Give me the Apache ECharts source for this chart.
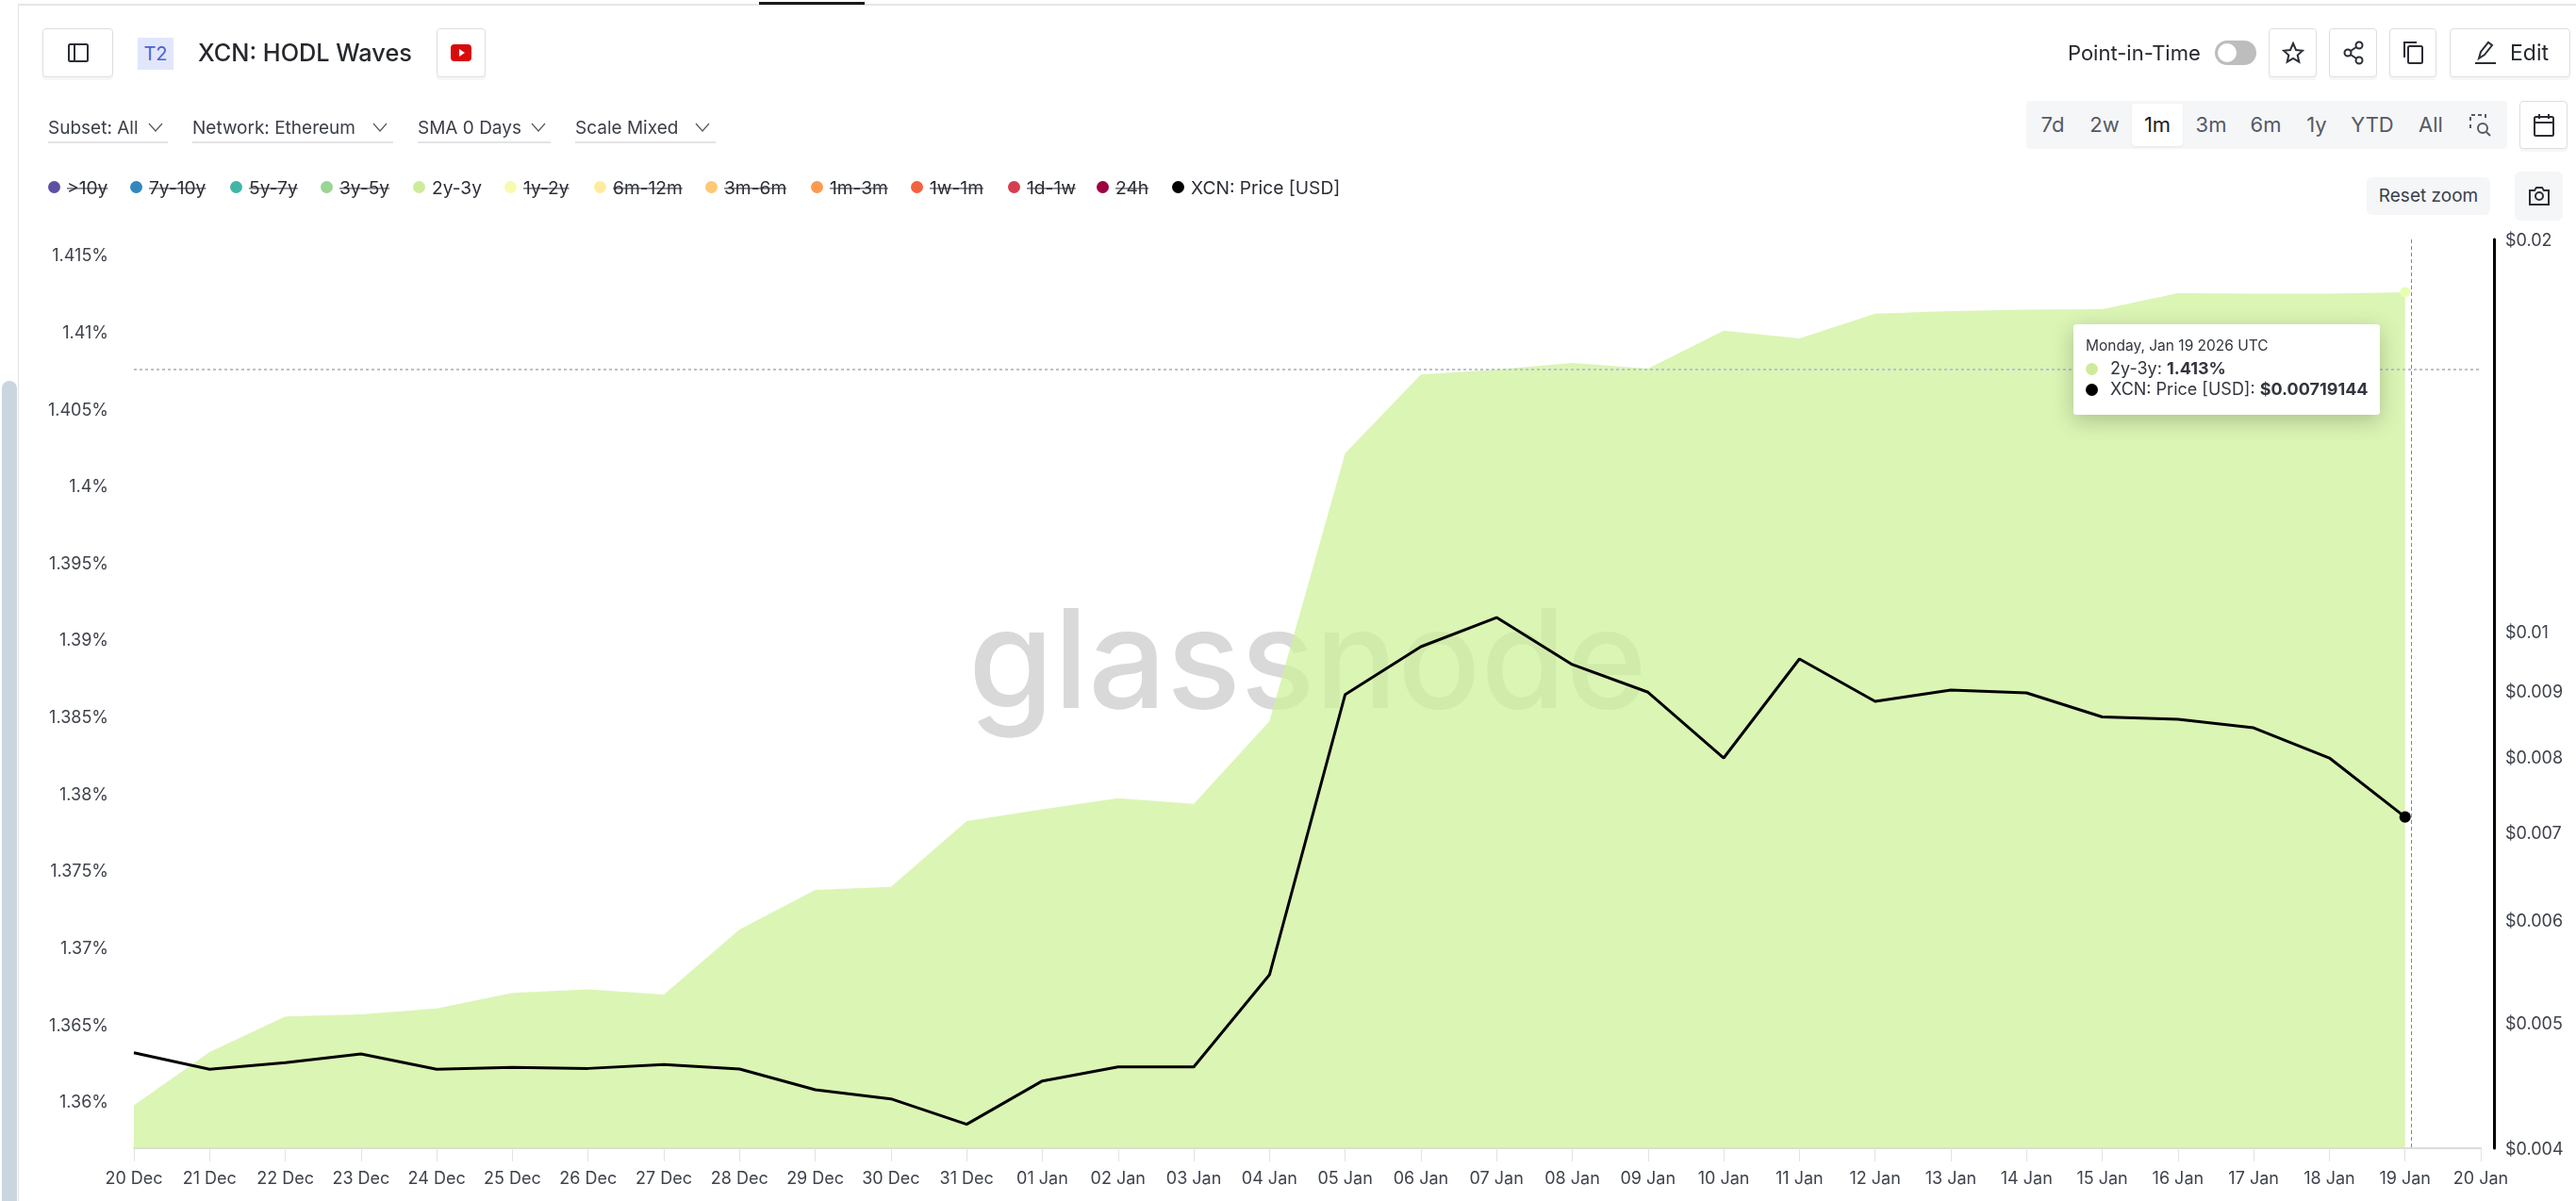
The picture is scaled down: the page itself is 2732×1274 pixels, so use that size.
<!DOCTYPE html>
<html>
<head>
<meta charset="utf-8">
<title>XCN: HODL Waves</title>
<script src="https://cdn.jsdelivr.net/npm/echarts@6/dist/echarts.min.js"></script>
<style>
html, body { margin: 0; padding: 0; background: #fff; overflow: hidden; }
body { width: 2732px; height: 1274px; position: relative; font-family: Inter, sans-serif; color: #2b2e36; }
#chart { position: absolute; left: 0; top: 0; width: 2732px; height: 1274px; }
.abs { position: absolute; }
.btn { position: absolute; box-sizing: border-box; background: #fff; border: 1px solid #dcdee2; border-radius: 4px; box-shadow: 0 3px 0 #f6f6f6; display: flex; align-items: center; justify-content: center; }
.txt { position: absolute; white-space: nowrap; line-height: 1; transform: translateY(-50%); }
.filter { font-size: 19px; color: #3b3f48; }
.under { position: absolute; top: 150px; height: 2px; background: #e3e3e6; }
.rng { font-size: 22px; color: #555a64; transform: translate(-50%, -50%); }
.dot { position: absolute; width: 13px; height: 13px; border-radius: 50%; top: 192px; }
.leg { font-size: 19.2px; color: #2b2e36; top: 200px; }
.off { text-decoration: line-through; }
svg { display: block; fill: none; stroke: #2b2e36; stroke-width: 2; }
.chev { stroke: #555a64; stroke-width: 1.2; }
.tipdot { display: inline-block; width: 13px; height: 13px; border-radius: 50%; margin-right: 13px; vertical-align: -1px; }
</style>
</head>
<body>
<div id="chart"></div>

<!-- page chrome -->
<div class="abs" style="left:19px;top:4px;right:0;height:2px;background:#e6e6e6"></div>
<div class="abs" style="left:805px;top:2px;width:112px;height:3px;background:#1a1a1a"></div>
<div class="abs" style="left:19px;top:5px;width:1px;height:1269px;background:#e4e4e4"></div>
<div class="abs" style="left:2px;top:404px;width:16px;height:870px;background:#c9d6e0;border-radius:8px 8px 0 0"></div>

<div class="btn" style="left:45px;top:30px;width:75px;height:52px"><svg width="24" height="22"><rect x="2" y="2" width="20" height="18" rx="1.5"/><path d="M8 2v18"/></svg></div>
<div class="abs" style="left:146px;top:40px;width:38px;height:34px;background:#e2e6fb;color:#4a64d8;font-size:20px;line-height:34px;text-align:center">T2</div>
<div class="txt" style="left:210px;top:56px;font-size:25.3px;font-weight:500;color:#26282e">XCN: HODL Waves</div>
<div class="btn" style="left:463px;top:30px;width:52px;height:52px"><svg width="24" height="18" style="stroke:none"><rect x="1" y="0" width="22" height="18" rx="4" fill="#d90a0a"/><path d="M10 5l6 4-6 4z" fill="#fff"/></svg></div>

<div class="txt filter" style="left:51px;top:135px">Subset: All</div>
<svg class="abs chev" style="left:157px;top:129px" width="16" height="12"><path d="M1 2l7 8 7-8"/></svg>
<div class="under" style="left:51px;width:127px"></div>
<div class="txt filter" style="left:204px;top:135px">Network: Ethereum</div>
<svg class="abs chev" style="left:395px;top:129px" width="16" height="12"><path d="M1 2l7 8 7-8"/></svg>
<div class="under" style="left:204px;width:213px"></div>
<div class="txt filter" style="left:443px;top:135px">SMA 0 Days</div>
<svg class="abs chev" style="left:563px;top:129px" width="16" height="12"><path d="M1 2l7 8 7-8"/></svg>
<div class="under" style="left:443px;width:141px"></div>
<div class="txt filter" style="left:610px;top:135px">Scale Mixed</div>
<svg class="abs chev" style="left:737px;top:129px" width="16" height="12"><path d="M1 2l7 8 7-8"/></svg>
<div class="under" style="left:610px;width:149px"></div>

<div id="legend"></div>

<div class="txt" style="left:2193px;top:56px;font-size:22px;color:#26282e">Point-in-Time</div>
<div class="abs" style="left:2349px;top:43px;width:44px;height:26px;border-radius:13px;background:#bdbdbd"></div>
<div class="abs" style="left:2352px;top:46px;width:20px;height:20px;border-radius:50%;background:#fff"></div>
<div class="btn" style="left:2406px;top:30px;width:51px;height:52px"><svg width="24" height="24" stroke-width="1.6"><path d="M12 2l3 7 7 .7-5.300 4.800 1.600 7.200L12 18l-6.300 3.700 1.600-7.200L2 9.700 9 9z"/></svg></div>
<div class="btn" style="left:2470px;top:30px;width:51px;height:52px"><svg width="24" height="26"><circle cx="18" cy="5" r="3.500"/><circle cx="6" cy="13" r="3.500"/><circle cx="18" cy="21" r="3.500"/><path d="M9 11l6-4M9 15l6 4"/></svg></div>
<div class="btn" style="left:2534px;top:30px;width:50px;height:52px"><svg width="24" height="26"><rect x="7" y="6" width="15" height="18" rx="1.500"/><path d="M3 18V2h13"/></svg></div>
<div class="btn" style="left:2598px;top:30px;width:128px;height:52px;justify-content:flex-start"><svg style="margin-left:25px" width="24" height="26"><path d="M5 19l2-7 8-10 4 3-8 10zM1 24h22"/></svg><span style="margin-left:14px;font-size:23px;color:#26282e">Edit</span></div>

<div class="abs" style="left:2149px;top:107px;width:510px;height:51px;background:#f5f6f8;border-radius:4px"></div>
<div class="abs" style="left:2261px;top:110px;width:54px;height:45px;background:#fff;border-radius:4px;box-shadow:0 1px 2px #e6e6e6"></div>
<div class="txt rng" style="left:2177px;top:132px">7d</div>
<div class="txt rng" style="left:2232px;top:132px">2w</div>
<div class="txt rng" style="left:2288px;top:132px;color:#1b1d22">1m</div>
<div class="txt rng" style="left:2345px;top:132px">3m</div>
<div class="txt rng" style="left:2403px;top:132px">6m</div>
<div class="txt rng" style="left:2457px;top:132px">1y</div>
<div class="txt rng" style="left:2516px;top:132px">YTD</div>
<div class="txt rng" style="left:2578px;top:132px">All</div>
<svg class="abs" style="left:2618px;top:120px;stroke:#555a64" width="26" height="26" stroke-width="1.600"><path d="M2 8V2h16v6M2 12v6" stroke-dasharray="4 3"/><circle cx="15" cy="16" r="5"/><path d="M19 20l4 4"/></svg>
<div class="btn" style="left:2672px;top:107px;width:51px;height:51px"><svg width="24" height="26"><rect x="2" y="4" width="20" height="20" rx="1.500"/><path d="M2 10h20M7 1v5M17 1v5"/></svg></div>
<div class="abs" style="left:2510px;top:188px;width:131px;height:40px;background:#f5f6f8;border-radius:6px;font-size:19px;line-height:40px;text-align:center;color:#3b3f48">Reset zoom</div>
<div class="abs" style="left:2667px;top:182px;width:51px;height:52px;background:#f5f6f8;border-radius:6px;display:flex;align-items:center;justify-content:center"><svg width="24" height="22"><path d="M2 5h5l2-3h6l2 3h5v15H2z"/><circle cx="12" cy="11" r="4"/></svg></div>

<script>
var days = ['20 Dec','21 Dec','22 Dec','23 Dec','24 Dec','25 Dec','26 Dec','27 Dec','28 Dec','29 Dec','30 Dec','31 Dec',
    '01 Jan','02 Jan','03 Jan','04 Jan','05 Jan','06 Jan','07 Jan','08 Jan','09 Jan','10 Jan','11 Jan','12 Jan','13 Jan',
    '14 Jan','15 Jan','16 Jan','17 Jan','18 Jan','19 Jan','20 Jan'];
// 2y-3y supply share, percent
var wave2y3y = [1.3597,1.36317,1.36548,1.36562,1.366,1.36701,1.36725,1.3669,1.37113,1.37371,1.37391,1.37818,
    1.37895,1.37967,1.3793,1.38467,1.40209,1.4072,1.40753,1.40796,1.40759,1.41006,1.40955,1.41115,1.41133,
    1.41142,1.41145,1.41249,1.41246,1.41246,1.41255,null];
// XCN price, USD
var priceUsd = [0.004737,0.0046,0.004654,0.004727,0.0046,0.004615,0.004607,0.004638,0.004602,0.004436,0.004365,0.004173,
    0.004506,0.00462,0.00462,0.005438,0.008934,0.009723,0.010239,0.00942,0.00897,0.007984,0.009514,0.008825,0.009004,
    0.008959,0.008586,0.00855,0.008422,0.007984,0.00719144,null];
var leftTicks = [1.36,1.365,1.37,1.375,1.38,1.385,1.39,1.395,1.4,1.405,1.41,1.415];
var rightTicks = [0.004,0.005,0.006,0.007,0.008,0.009,0.01,0.02];
var legendNames = ['>10y','7y-10y','5y-7y','3y-5y','2y-3y','1y-2y','6m-12m','3m-6m','1m-3m','1w-1m','1d-1w','24h','XCN: Price [USD]'];
var legendColors = ['#5e4fa2','#3288bd','#41b6a6','#99d594','#cdec9a','#f6fbb0','#feeb9d','#fdc974','#fd9a50','#f4623f','#d53e4f','#9e0142','#000000'];
var legendDotX = [51,138,244,340,438,535,630,748,860,966,1069,1163,1243];
var legendOn = ['2y-3y','XCN: Price [USD]'];
var tipTitle = 'Monday, Jan 19 2026 UTC';
var hoverIndex = 30;

// 图例是带删除线的，所以用 html
var legendHtml = '';
legendNames.forEach(function (name, i) {
    var cls = legendOn.indexOf(name) < 0 ? ' off' : '';
    legendHtml += '<div class="dot" style="left:' + legendDotX[i] + 'px;background:' + legendColors[i] + '"></div>';
    legendHtml += '<div class="txt leg' + cls + '" style="left:' + (legendDotX[i] + 20) + 'px">' + name.replace('>', '&gt;') + '</div>';
});
document.getElementById('legend').innerHTML = legendHtml;

var labelStyle = { color: '#3f434c', fontSize: 18, fontFamily: 'Inter' };
// 轴标签往下挪一点
var nudged = { n: { color: '#3f434c', fontSize: 18, fontFamily: 'Inter', padding: [4, 0, 0, 0] } };
var chart = echarts.init(document.getElementById('chart'));
var option = {
    animation: false,
    grid: { left: 142, right: 101, top: 254, bottom: 56 },
    tooltip: {
        trigger: 'axis',
        alwaysShowContent: true,
        transitionDuration: 0,
        axisPointer: { type: 'none' },
        position: [2199, 344],
        padding: 0,
        borderWidth: 0,
        backgroundColor: '#fff',
        extraCssText: 'width:325px;height:96px;box-sizing:border-box;padding:13px 13px 0;border-radius:3px;box-shadow:0 6px 22px rgba(60,70,40,0.3);',
        formatter: function (params) {
            return '<div style="font:15.5px/20px Inter;color:#33363e;margin-bottom:3px">' + tipTitle + '</div>' +
                '<div style="font:18px/22px Inter;color:#33363e;white-space:nowrap"><span class="tipdot" style="background:#cdec9a"></span>' +
                params[0].seriesName + ': <b>' + params[0].value.toFixed(3) + '%</b></div>' +
                '<div style="font:18px/22px Inter;color:#33363e;white-space:nowrap"><span class="tipdot" style="background:#000"></span>' +
                params[1].seriesName + ': <b>$' + params[1].value.toFixed(8) + '</b></div>';
        }
    },
    xAxis: {
        type: 'category',
        data: days,
        boundaryGap: false,
        axisLine: { lineStyle: { color: '#dcdcdc', width: 2 } },
        axisTick: { alignWithLabel: true, length: 14, lineStyle: { color: '#e2e2e2' } },
        axisLabel: Object.assign({ interval: 0, margin: 24 }, labelStyle)
    },
    yAxis: [
        {
            type: 'value',
            min: 1.35692,
            max: 1.41598,
            splitLine: { show: false },
            axisLine: { show: false },
            axisTick: { show: false },
            axisLabel: Object.assign({
                customValues: leftTicks,
                margin: 27,
                rich: nudged,
                formatter: function (v) { return '{n|' + v + '%}'; }
            }, labelStyle)
        },
        {
            type: 'log',
            position: 'right',
            offset: 14,
            min: 0.004,
            max: 0.02,
            splitLine: { show: false },
            axisLine: { show: true, lineStyle: { color: '#000', width: 3 } },
            axisTick: { show: false },
            axisLabel: Object.assign({
                customValues: rightTicks,
                margin: 12,
                rich: nudged,
                formatter: function (v) { return '{n|$' + v + '}'; }
            }, labelStyle)
        }
    ],
    graphic: [
        {
            type: 'text', z: 0, left: 1027, top: 634,
            style: { text: 'glassnode', fontFamily: 'Inter', fontWeight: 500, fontSize: 146, fill: '#d9d9d9' }
        },
        {
            type: 'line', z: 20,
            shape: { x1: 142, y1: 392, x2: 2631, y2: 392 },
            style: { stroke: '#b9c1c8', lineWidth: 2, lineDash: [3, 3] }
        },
        {
            type: 'line', z: 20,
            shape: { x1: 2557.5, y1: 254, x2: 2557.5, y2: 1218 },
            style: { stroke: '#6d8aa0', lineWidth: 1, lineDash: [4, 3] }
        }
    ],
    series: [
        {
            name: '2y-3y',
            type: 'line',
            z: 3,
            yAxisIndex: 0,
            data: wave2y3y,
            showAllSymbol: true,
            symbol: function (v, p) { return p.dataIndex === hoverIndex ? 'circle' : 'none'; },
            symbolSize: 10,
            lineStyle: { width: 0 },
            itemStyle: { color: '#d2eea0' },
            areaStyle: { color: 'rgb(189,220,141)', opacity: 0.74 }
        },
        {
            name: 'XCN: Price [USD]',
            type: 'line',
            z: 5,
            yAxisIndex: 1,
            data: priceUsd,
            showAllSymbol: true,
            symbol: function (v, p) { return p.dataIndex === hoverIndex ? 'circle' : 'none'; },
            symbolSize: 11,
            lineStyle: { color: '#000', width: 3 },
            itemStyle: { color: '#000' }
        }
    ]
};
chart.setOption(option);
chart.dispatchAction({ type: 'showTip', seriesIndex: 0, dataIndex: hoverIndex });
</script>
</body>
</html>
